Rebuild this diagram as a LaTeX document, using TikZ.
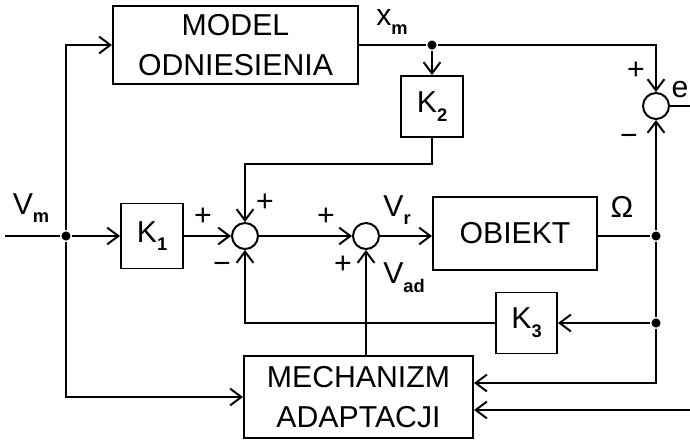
\documentclass[tikz,border=0pt]{standalone}
\usepackage{fontspec}
\setmainfont{Liberation Sans}
\usetikzlibrary{positioning, arrows.meta}
\newcommand{\lowsub}[1]{\raisebox{-0.55ex}{\fontsize{13}{13}\selectfont\bfseries #1}}

\begin{document}
\begin{tikzpicture}[x=0.025cm, y=-0.025cm,
    >={Straight Barb[length=8pt,width=12pt]},
    line width=1.4pt,
    every node/.style={font=\fontsize{21.5}{28}\selectfont},
    block/.style={draw, align=center, inner sep=0pt},
    sumnode/.style={draw, circle, minimum size=0.65cm, inner sep=0pt},
    dot/.style={circle, fill, minimum size=6.5pt, inner sep=0pt},
    sign/.style={inner sep=0pt}]
    \useasboundingbox (0,0) rectangle (690,442);

    % Blocks
    \node[block, minimum width=6.125cm, minimum height=1.95cm] (model) at (235.5,45) {MODEL\\ODNIESIENIA};
    \node[block, minimum width=1.55cm, minimum height=1.525cm] (k2) at (432,106.5) {K\lowsub{2}};
    \node[block, minimum width=1.55cm, minimum height=1.625cm] (k1) at (152,236) {K\lowsub{1}};
    \node[block, minimum width=4.1cm, minimum height=1.825cm] (obiekt) at (515,233.5) {OBIEKT};
    \node[block, minimum width=1.525cm, minimum height=1.525cm] (k3) at (526.5,323) {K\lowsub{3}};
    \node[block, minimum width=5.725cm, minimum height=2.05cm] (mech) at (358.5,397) {MECHANIZM\\ADAPTACJI};

    % Summing junctions
    \node[sumnode] (s1) at (245,236) {};
    \node[sumnode] (s2) at (366,236) {};
    \node[sumnode] (s3) at (656,106) {};

    % Branch points and free ends
    \coordinate (in) at (5,236);
    \node[dot] (jin) at (66,236) {};
    \node[dot] (jxm) at (432,45) {};
    \node[dot] (jout) at (656,236) {};
    \node[dot] (jk3) at (656,323) {};
    \coordinate (eout) at (690,106);
    \coordinate (ein) at (690,410);

    % Forward path
    \draw (in) -- (jin);
    \draw[->] (jin) -- (k1);
    \draw[->] (k1) -- (s1);
    \draw[->] (s1) -- (s2);
    \draw[->] (s2) -- (s2 -| obiekt.west);
    \draw (obiekt.east |- jout) -- (jout);

    % Reference model
    \draw[->] (jin) |- (model.west);
    \draw (model.east) -- (jxm);
    \draw[->] (jxm) -| (s3);
    \draw[->] (jxm) -- (k2);
    \draw[->] (k2.south) -- ++(0,26) -| (s1);
    \draw (s3.east) -- (eout);
    \draw[->] (jout) -- (s3);

    % Feedback and adaptation
    \draw (jout) -- (jk3);
    \draw[->] (jk3) -- (k3);
    \draw[->] (k3) -| (s1);
    \draw[->] (jk3) |- ([yshift=0.35cm]mech.east);
    \draw[->] (ein) -- (ein -| mech.east);
    \draw[->] (jin) |- (mech.west);
    \draw[->] (mech.north -| s2) -- (s2);

    % Signal labels
    \node (lvm) at (31,208) {V\lowsub{m}};
    \node (lxm) at (392,22) {x\lowsub{m}};
    \node (le) at (680,90) {e};
    \node (lom) at (622,207) {Ω};
    \node (lvr) at (397,210) {V\lowsub{r}};
    \node (lvad) at (404,278) {V\lowsub{ad}};

    % Signs
    \node[sign] (p1a) at (203,217) {+};
    \node[sign] (p1b) at (265,203) {+};
    \node[sign] (m1) at (222,268) {−};
    \node[sign] (p2a) at (326,217) {+};
    \node[sign] (p2b) at (343,265) {+};
    \node[sign] (p3) at (636,71) {+};
    \node[sign] (m3) at (629,140) {−};
\end{tikzpicture}
\end{document}
